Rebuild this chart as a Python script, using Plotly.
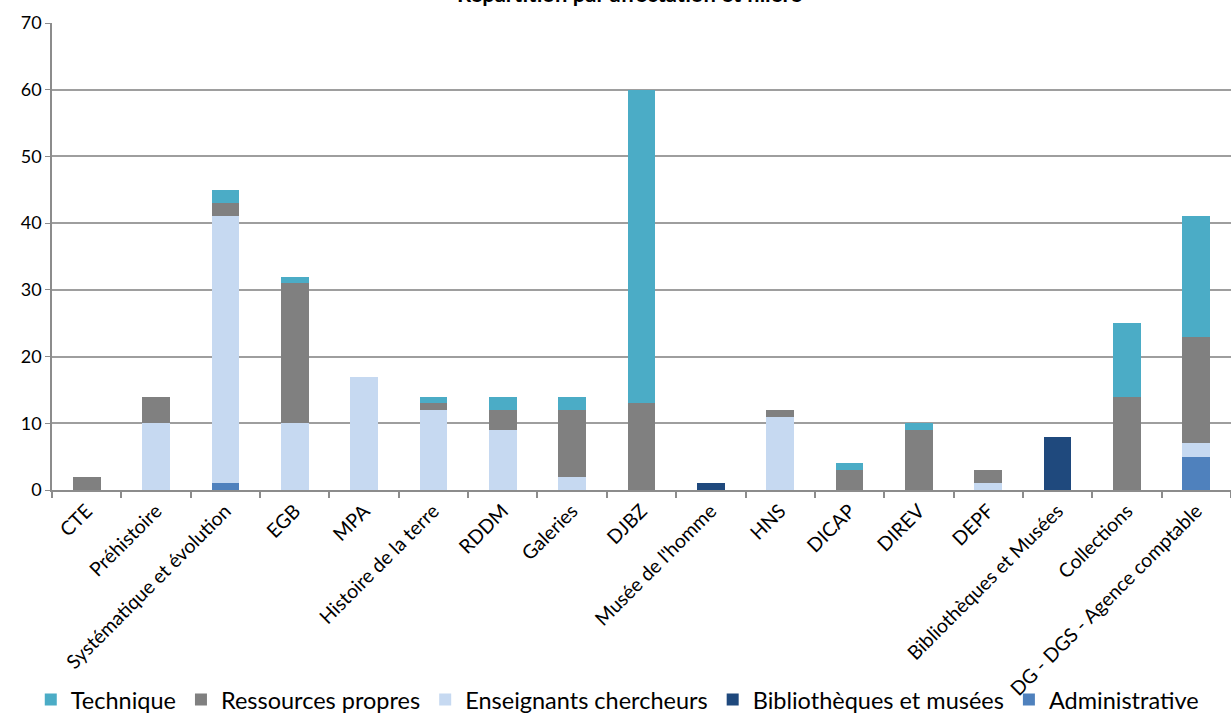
import plotly.graph_objects as go

categories = ["CTE", "Préhistoire", "Systématique et évolution", "EGB", "MPA",
              "Histoire de la terre", "RDDM", "Galeries", "DJBZ", "Musée de l'homme",
              "HNS", "DICAP", "DIREV", "DEPF", "Bibliothèques et Musées",
              "Collections", "DG - DGS - Agence comptable"]

administrative = [0, 0, 1, 0, 0, 0, 0, 0, 0, 0, 0, 0, 0, 0, 0, 0, 5]
bibliotheques = [0, 0, 0, 0, 0, 0, 0, 0, 0, 1, 0, 0, 0, 0, 8, 0, 0]
enseignants = [0, 10, 40, 10, 17, 12, 9, 2, 0, 0, 11, 0, 0, 1, 0, 0, 2]
ressources = [2, 4, 2, 21, 0, 1, 3, 10, 13, 0, 1, 3, 9, 2, 0, 14, 16]
technique = [0, 0, 2, 1, 0, 1, 2, 2, 47, 0, 0, 1, 1, 0, 0, 11, 18]

y_ticks = [0, 10, 20, 30, 40, 50, 60, 70]

series = [
    ("Administrative", administrative, "#4F81BD"),
    ("Bibliothèques et musées", bibliotheques, "#1F497D"),
    ("Enseignants chercheurs", enseignants, "#C6D9F1"),
    ("Ressources propres", ressources, "#808080"),
    ("Technique", technique, "#4BACC6"),
]

fig = go.Figure()
for name, vals, color in series:
    fig.add_trace(go.Bar(x=categories, y=vals, name=name,
                         marker=dict(color=color, line=dict(width=0))))

font_family = "Lato, 'Open Sans', sans-serif"

fig.update_layout(
    barmode="stack",
    bargap=0.6,
    width=1231, height=720,
    margin=dict(l=52, r=0, t=23, b=230, autoexpand=False),
    plot_bgcolor="white",
    paper_bgcolor="white",
    font=dict(family=font_family, color="black"),
    legend=dict(orientation="h", traceorder="reversed",
                xref="container", yref="container",
                x=0.025, xanchor="left", y=0.028, yanchor="middle",
                font=dict(size=23.5), itemwidth=30, tracegroupgap=0,
                bgcolor="rgba(0,0,0,0)"),
    showlegend=True,
)

fig.add_annotation(text="<b>Répartition par affectation et filière</b>",
                   xref="paper", yref="paper", x=0.49, y=1.03,
                   xanchor="center", yanchor="bottom", showarrow=False,
                   font=dict(size=22, color="black", family=font_family))

fig.update_yaxes(range=[0, 70], tickvals=y_ticks, showgrid=True,
                 gridcolor="#9E9E9E", gridwidth=1.5,
                 showline=True, linecolor="#8C8C8C", linewidth=1.5,
                 ticks="outside", ticklen=5, tickcolor="#8C8C8C",
                 tickfont=dict(size=18), zeroline=False, automargin=False)
fig.update_xaxes(tickangle=-45, tickson="boundaries", ticks="outside",
                 ticklen=6, tickcolor="#8C8C8C", tickwidth=1.5,
                 showline=True, linecolor="#8C8C8C", linewidth=2,
                 tickfont=dict(size=19.5), automargin=False)

fig.write_html("out.html", config={"displayModeBar": False},
               post_script="document.body.style.margin='0';document.body.style.overflow='hidden';")
